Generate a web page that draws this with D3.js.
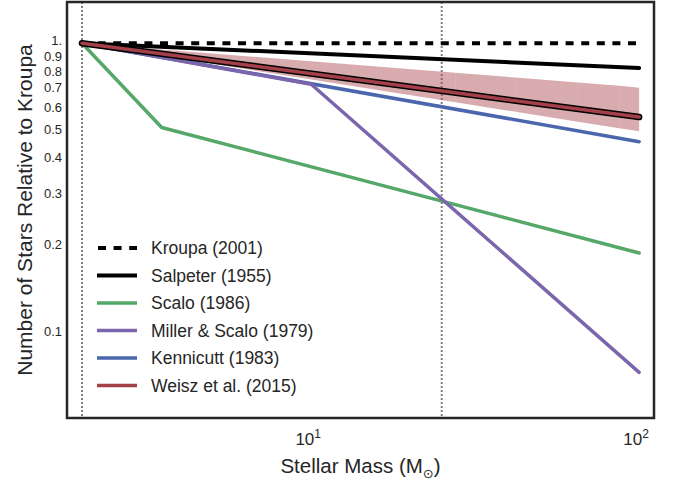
<!DOCTYPE html>
<html>
<head>
<meta charset="utf-8">
<script src="https://cdn.jsdelivr.net/npm/d3@7/dist/d3.min.js"></script>
<style>
  html, body { margin: 0; padding: 0; background: #ffffff; }
  svg { display: block; }
  text { font-family: "Liberation Sans", Arial, Helvetica, sans-serif; fill: #262626; }
</style>
</head>
<body>
<svg id="chart" width="680" height="481"></svg>
<script>
// IMF ratios relative to Kroupa (2001), normalised at 2 solar masses
const kroupaMass = [2, 100];
const kroupaRel = [1, 1];
const salpeterMass = [2, 100];
const salpeterRel = [1, 0.82];
const scaloMass = [2, 3.5, 100];
const scaloRel = [1, 0.51, 0.187];
const millerMass = [2, 10, 100];
const millerRel = [1, 0.72, 0.072];
const kennicuttMass = [2, 100];
const kennicuttRel = [1, 0.455];
const weiszMass = [2, 100];
const weiszRel = [1, 0.554];
// Weisz et al. (2015) uncertainty envelope
const bandMass = [2, 7.5, 27.5, 42, 65, 87, 100];
const bandUpper = [1, 0.888, 0.790, 0.760, 0.731, 0.712, 0.700];
const bandLower = [1, 0.788, 0.624, 0.578, 0.534, 0.507, 0.495];

// vertical reference masses
const refMasses = [2, 25];

const yTickValues = [0.1, 0.2, 0.3, 0.4, 0.5, 0.6, 0.7, 0.8, 0.9, 1.0];
const yTickLabels = ["0.1", "0.2", "0.3", "0.4", "0.5", "0.6", "0.7", "0.8", "0.9", "1."];
const xTickValues = [10, 100];
const xTickExponents = ["1", "2"];

const legendLabels = ["Kroupa (2001)", "Salpeter (1955)", "Scalo (1986)",
                      "Miller & Scalo (1979)", "Kennicutt (1983)", "Weisz et al. (2015)"];

const colors = {
  kroupa: "#000000",
  salpeter: "#000000",
  scalo: "#55a868",
  miller: "#7b66ad",
  kennicutt: "#4a66ac",
  weisz: "#a4404a",
  band: "#a8444c"
};

const svg = d3.select("#chart");
const plot = { left: 67, right: 654, top: 2, bottom: 418 };

const x = d3.scaleLog().domain([1.8, 111]).range([plot.left, plot.right]);
const y = d3.scaleLog().domain([0.05, 1.39]).range([plot.bottom, plot.top]);

const g = svg.append("g");

// clip to the axes box
svg.append("clipPath").attr("id", "clip")
  .append("rect")
  .attr("x", plot.left).attr("y", plot.top)
  .attr("width", plot.right - plot.left).attr("height", plot.bottom - plot.top);

const inner = g.append("g").attr("clip-path", "url(#clip)");

// dotted reference lines
inner.selectAll("line.ref").data(refMasses).enter().append("line")
  .attr("class", "ref")
  .attr("x1", d => x(d)).attr("x2", d => x(d))
  .attr("y1", plot.top).attr("y2", plot.bottom)
  .attr("stroke", "#808080").attr("stroke-width", 2)
  .attr("stroke-dasharray", "2,2");

const line = d3.line().x(d => x(d[0])).y(d => y(d[1]));
const zip = (a, b) => a.map((v, i) => [v, b[i]]);

// uncertainty band, drawn piecewise and translucent
const bandSegments = [];
for (let i = 0; i < bandMass.length - 1; i++) {
  bandSegments.push([
    [bandMass[i], bandUpper[i]], [bandMass[i + 1], bandUpper[i + 1]],
    [bandMass[i + 1], bandLower[i + 1]], [bandMass[i], bandLower[i]]
  ]);
}
inner.selectAll("path.band").data(bandSegments).enter().append("path")
  .attr("class", "band")
  .attr("d", d => line(d) + "Z")
  .attr("fill", colors.band)
  .attr("fill-opacity", 0.45)
  .attr("stroke", "none");

function drawLine(mass, rel, color, width, dash) {
  const p = inner.append("path")
    .attr("d", line(zip(mass, rel)))
    .attr("fill", "none")
    .attr("stroke", color)
    .attr("stroke-width", width)
    .attr("stroke-linejoin", "round")
    .attr("stroke-linecap", dash ? "butt" : "round");
  if (dash) p.attr("stroke-dasharray", dash);
  return p;
}

drawLine(kroupaMass, kroupaRel, colors.kroupa, 4, "8,7.6");
drawLine(salpeterMass, salpeterRel, colors.salpeter, 4);
drawLine(scaloMass, scaloRel, colors.scalo, 3.5);
drawLine(kennicuttMass, kennicuttRel, colors.kennicutt, 3.5);
drawLine(millerMass, millerRel, colors.miller, 3.5);
// Weisz line with a dark outline
drawLine(weiszMass, weiszRel, "#000000", 6.5);
drawLine(weiszMass, weiszRel, colors.weisz, 3.5);

// frame
g.append("rect")
  .attr("x", plot.left).attr("y", plot.top)
  .attr("width", plot.right - plot.left).attr("height", plot.bottom - plot.top)
  .attr("fill", "none").attr("stroke", "#262626").attr("stroke-width", 2.5);

// y tick labels; the top label sits a touch higher so it clears "0.9"
const yAxis = g.append("g");
yAxis.selectAll("text").data(yTickValues).enter().append("text")
  .attr("x", plot.left - 5)
  .attr("y", d => y(d) - (d === 1 ? 2.5 : 0))
  .attr("dy", "0.35em")
  .attr("text-anchor", "end")
  .attr("font-size", 13)
  .text((d, i) => yTickLabels[i]);

// x tick labels as powers of ten
const xAxis = g.append("g");
const xt = xAxis.selectAll("text").data(xTickValues).enter().append("text")
  .attr("x", d => x(d) - 3)
  .attr("y", 445)
  .attr("text-anchor", "middle")
  .attr("font-size", 17);
xt.append("tspan").text("10");
xt.append("tspan").attr("dy", -7.5).attr("font-size", 12).text((d, i) => xTickExponents[i]);

// axis titles
const xl = g.append("text")
  .attr("x", (plot.left + plot.right) / 2)
  .attr("y", 473)
  .attr("text-anchor", "middle")
  .attr("font-size", 20.5);
xl.append("tspan").text("Stellar Mass (M");
xl.append("tspan").attr("dy", 5).attr("font-size", 13)
  .style("font-family", "'DejaVu Sans', sans-serif").text("\u2299");
xl.append("tspan").attr("dy", -5).text(")");

g.append("text")
  .attr("transform", `translate(32,${(plot.top + plot.bottom) / 2}) rotate(-90)`)
  .attr("text-anchor", "middle")
  .attr("font-size", 21)
  .text("Number of Stars Relative to Kroupa");

// legend
const legendItems = [
  { color: colors.kroupa, dash: "8,7.6", width: 4 },
  { color: colors.salpeter, width: 4 },
  { color: colors.scalo, width: 3.5 },
  { color: colors.miller, width: 3.5 },
  { color: colors.kennicutt, width: 3.5 },
  { color: colors.weisz, width: 3.5 }
];
const legend = g.append("g");
legendItems.forEach((item, i) => {
  const yy = 248 + i * 27.5;
  const ln = legend.append("line")
    .attr("x1", 97).attr("x2", 137)
    .attr("y1", yy).attr("y2", yy)
    .attr("stroke", item.color)
    .attr("stroke-width", item.width);
  if (item.dash) ln.attr("stroke-dasharray", item.dash).attr("stroke-dashoffset", -1);
  legend.append("text")
    .attr("x", 151).attr("y", yy)
    .attr("dy", "0.35em")
    .attr("font-size", 17.5)
    .text(legendLabels[i]);
});
</script>
</body>
</html>
